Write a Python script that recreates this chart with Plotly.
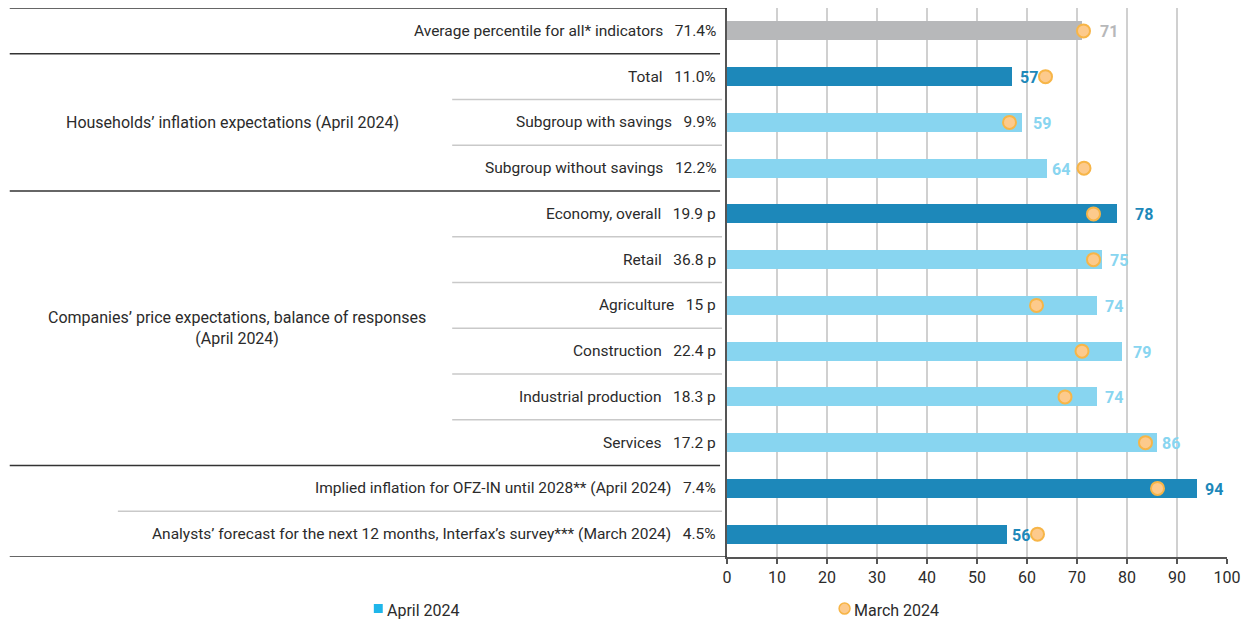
import plotly.graph_objects as go

# Indicator rows, top to bottom
categories = [
    "Average percentile for all* indicators",
    "Total",
    "Subgroup with savings",
    "Subgroup without savings",
    "Economy, overall",
    "Retail",
    "Agriculture",
    "Construction",
    "Industrial production",
    "Services",
    "Implied inflation for OFZ-IN until 2028** (April 2024)",
    "Analysts’ forecast for the next 12 months, Interfax’s survey*** (March 2024)",
]
indicator_levels = ["71.4%", "11.0%", "9.9%", "12.2%", "19.9 p", "36.8 p", "15 p",
                    "22.4 p", "18.3 p", "17.2 p", "7.4%", "4.5%"]
row_kind = ["average", "main", "sub", "sub", "main", "sub", "sub", "sub", "sub", "sub",
            "main", "main"]

# Percentiles
april_2024 = [71, 57, 59, 64, 78, 75, 74, 79, 74, 86, 94, 56]
march_2024 = [71.3, 63.7, 56.5, 71.4, 73.3, 73.3, 61.9, 71.0, 67.6, 83.7, 86.1, 62.1]

group_labels = ["Households’ inflation expectations (April 2024)",
                "Companies’ price expectations, balance of responses<br>(April 2024)"]
x_ticks = [0, 10, 20, 30, 40, 50, 60, 70, 80, 90, 100]

KIND_COLOR = {"average": "#b7b8ba", "main": "#1d88ba", "sub": "#88d5f0"}
TEXT = "#2b2b2b"
FONT = "Roboto"

W, H = 1248, 621
L, R, T, B = 727, 17, 8, 64
PW, PH = W - L - R, H - T - B


def px(x):
    """pixel x -> paper x"""
    return (x - L) / PW


def py(y):
    """pixel y -> paper y"""
    return (H - B - y) / PH


rows = list(range(len(categories)))
bar_colors = [KIND_COLOR[k] for k in row_kind]

fig = go.Figure()
fig.add_trace(go.Bar(
    x=april_2024, y=rows, orientation="h", width=0.42,
    marker=dict(color=bar_colors, line=dict(width=0)),
    name="April 2024", showlegend=False, hoverinfo="x",
))
fig.add_trace(go.Scatter(
    x=march_2024, y=rows, mode="markers",
    marker=dict(size=13, color="#fdca8c", line=dict(color="#f7b547", width=2)),
    name="March 2024", showlegend=False, hoverinfo="x",
))

annotations = []
label_gap = [16, 6, 9, 3, 16, 6, 6, 9, 6, 3, 6, 3]
for i in rows:
    # value next to the bar end
    annotations.append(dict(
        x=april_2024[i], y=i, xref="x", yref="y", text=str(april_2024[i]),
        xanchor="left", yanchor="middle", xshift=label_gap[i], yshift=-1, showarrow=False,
        font=dict(family=FONT, size=16, color=KIND_COLOR[row_kind[i]], weight="bold"),
    ))
    # indicator name and its level
    annotations.append(dict(
        x=px(718), y=i, xref="paper", yref="y",
        text=f"{categories[i]}\u00a0\u00a0\u00a0{indicator_levels[i]}",
        xanchor="right", yanchor="middle", showarrow=False,
        font=dict(family=FONT, size=15.5, color=TEXT),
    ))

annotations.append(dict(x=px(229), y=2, xref="paper", yref="y", text=group_labels[0],
                        xanchor="center", yanchor="middle", showarrow=False,
                        font=dict(family=FONT, size=16, color=TEXT)))
annotations.append(dict(x=px(233), y=6.5, xref="paper", yref="y", text=group_labels[1],
                        xanchor="center", yanchor="middle", showarrow=False,
                        font=dict(family=FONT, size=16, color=TEXT)))

# legend
annotations.append(dict(x=px(382), y=py(610), xref="paper", yref="paper", text="April 2024",
                        xanchor="left", yanchor="middle", showarrow=False,
                        font=dict(family=FONT, size=16, color=TEXT)))
annotations.append(dict(x=px(853), y=py(610), xref="paper", yref="paper", text="March 2024",
                        xanchor="left", yanchor="middle", showarrow=False,
                        font=dict(family=FONT, size=16, color=TEXT)))

shapes = []
DARK = dict(color="#333333", width=1.5)
LIGHT = dict(color="#c9c9c9", width=1.5)
# table frame: top and bottom edges
shapes.append(dict(type="line", xref="paper", yref="y", x0=px(4), x1=px(727), y0=-0.5, y1=-0.5, line=DARK))
shapes.append(dict(type="line", xref="paper", yref="y", x0=px(4), x1=px(727), y0=11.5, y1=11.5, line=DARK))
# section dividers
for yb in (0.5, 3.5, 9.5):
    shapes.append(dict(type="line", xref="paper", yref="y", x0=px(4), x1=px(720), y0=yb, y1=yb, line=DARK))
for yb in (1.5, 2.5, 4.5, 5.5, 6.5, 7.5, 8.5):
    shapes.append(dict(type="line", xref="paper", yref="y", x0=px(450), x1=px(722), y0=yb, y1=yb, line=LIGHT))
shapes.append(dict(type="line", xref="paper", yref="y", x0=px(113), x1=px(722), y0=10.5, y1=10.5, line=LIGHT))

# legend symbols
shapes.append(dict(type="rect", xref="paper", yref="paper", x0=px(371), x1=px(380),
                   y0=py(613), y1=py(604), fillcolor="#1fb6ea", line=dict(width=0)))
shapes.append(dict(type="circle", xref="paper", yref="paper", x0=px(840), x1=px(851),
                   y0=py(614), y1=py(603), fillcolor="#fdca8c", line=dict(color="#f7b547", width=1.5)))

fig.update_layout(
    width=W, height=H,
    margin=dict(l=L, r=R, t=T, b=B, pad=0),
    paper_bgcolor="white", plot_bgcolor="white",
    font=dict(family=FONT, size=15.5, color=TEXT),
    bargap=0,
    xaxis=dict(range=[0, 100], tickvals=x_ticks, showgrid=True, gridcolor="#d0d0d0", gridwidth=1.5,
               zeroline=False, showline=True, linecolor="#555555", linewidth=1.5,
               ticks="outside", ticklen=5, tickcolor="#555555", tickwidth=1.5,
               tickfont=dict(family=FONT, size=16, color=TEXT), fixedrange=True),
    yaxis=dict(range=[11.5, -0.5], showticklabels=False, showgrid=False, zeroline=False,
               showline=True, linecolor="#555555", linewidth=2, ticks="", fixedrange=True),
    annotations=annotations,
    shapes=shapes,
    showlegend=False,
)

fig.write_html("out.html")
